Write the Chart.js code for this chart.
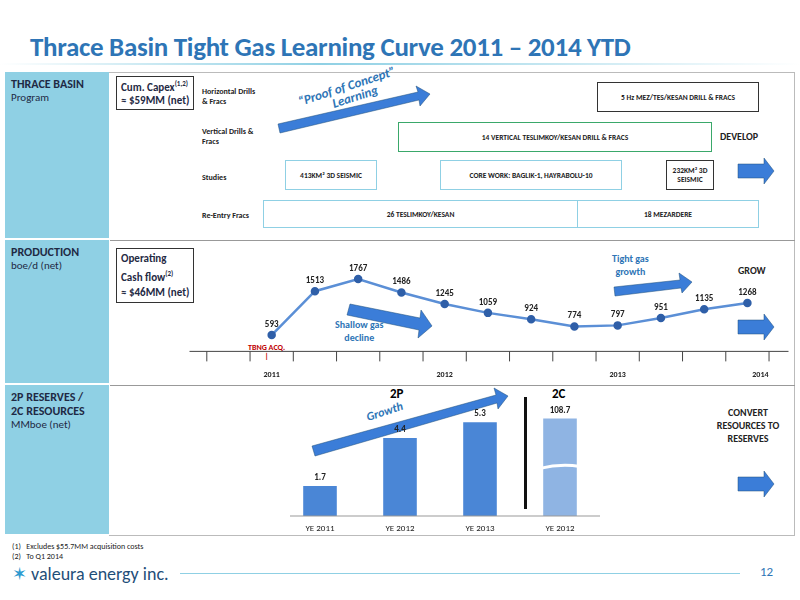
<!DOCTYPE html>
<html><head><meta charset="utf-8">
<script src="https://cdn.jsdelivr.net/npm/chart.js@4"></script>
<style>
body{margin:0;width:800px;height:600px;position:relative;background:#fff;font-family:Calibri,"Liberation Sans",Arial,sans-serif;overflow:hidden}
.a{position:absolute}
.title{left:30px;top:30px;font-size:27px;font-weight:bold;color:#2e75b6;letter-spacing:-0.3px}
.rowlab{left:5px;width:104px;background:#8fd0e4;border-bottom:2px solid #fff;padding:5px 6px;box-sizing:border-box;font-size:11px;color:#1f2a44}
.rowlab b{font-size:12px}
.box{position:absolute;border:1.5px solid #8fd0e4;font-size:7.5px;font-weight:bold;display:flex;align-items:center;justify-content:center;text-align:center;color:#222}
.lbl{position:absolute;font-size:8px;color:#222;font-weight:bold}
.note{position:absolute;border:1px solid #333;font-size:11px;font-weight:bold;padding:2px 4px;color:#1f2a44;background:#fff}
.sec{position:absolute;font-size:10px;font-weight:bold;color:#222;text-align:center}
</style></head><body>
<div class="a title">Thrace Basin Tight Gas Learning Curve 2011 – 2014 YTD</div>
<div class="a" style="left:0;top:63px;width:800px;height:2px;background:linear-gradient(90deg,#fff,#8fd0e4 40%,#fff)"></div>
<div class="a" style="left:5px;top:72px;width:790px;height:464px;border:1px solid #bbb;box-sizing:border-box"></div>
<div class="a" style="left:110px;top:240px;width:685px;height:1px;background:#999"></div>
<div class="a" style="left:110px;top:385px;width:685px;height:1px;background:#999"></div>
<div class="a rowlab" style="top:72px;height:168px"><b>THRACE BASIN</b><br>Program</div>
<div class="a rowlab" style="top:240px;height:145px"><b>PRODUCTION</b><br>boe/d (net)</div>
<div class="a rowlab" style="top:385px;height:151px"><b>2P RESERVES /<br>2C RESOURCES</b><br>MMboe (net)</div>

<div class="note" style="left:116px;top:76px">Cum. Capex<sup style="font-size:7px">(1,2)</sup><br>≈ $59MM (net)</div>
<div class="lbl" style="left:202px;top:86px">Horizontal Drills<br>&amp; Fracs</div>
<div class="lbl" style="left:202px;top:126px">Vertical Drills &amp;<br>Fracs</div>
<div class="lbl" style="left:202px;top:172px">Studies</div>
<div class="lbl" style="left:202px;top:210px">Re-Entry Fracs</div>
<div class="box" style="left:597px;top:82px;width:160px;height:28px;border-color:#333">5 Hz MEZ/TES/KESAN DRILL &amp; FRACS</div>
<div class="box" style="left:398px;top:122px;width:312px;height:28px;border-color:#3aa86a">14 VERTICAL TESLIMKOY/KESAN DRILL &amp; FRACS</div>
<div class="box" style="left:285px;top:160px;width:90px;height:28px">413KM² 3D SEISMIC</div>
<div class="box" style="left:440px;top:160px;width:180px;height:28px">CORE WORK: BAGLIK-1, HAYRABOLU-10</div>
<div class="box" style="left:666px;top:160px;width:46px;height:28px;border-color:#333">232KM² 3D SEISMIC</div>
<div class="box" style="left:263px;top:200px;width:313px;height:26px">26 TESLIMKOY/KESAN</div>
<div class="box" style="left:577px;top:200px;width:180px;height:26px">18 MEZARDERE</div>
<div class="sec" style="left:720px;top:130px">DEVELOP</div>
<div class="sec" style="left:738px;top:264px">GROW</div>
<div class="sec" style="left:716px;top:406px;width:64px">CONVERT RESOURCES TO RESERVES</div>

<div class="note" style="left:116px;top:248px;line-height:15px">Operating<br>Cash flow<sup style="font-size:7px">(2)</sup><br>≈ $46MM (net)</div>
<div class="a" style="left:248px;top:343px;font-size:8px;font-weight:bold;color:#c00000;text-align:center;line-height:9px">TBNG ACQ.<br>|</div>
<div class="a" style="left:335px;top:318px;font-size:10px;font-weight:bold;color:#2e75b6;text-align:center">Shallow gas<br>decline</div>
<div class="a" style="left:612px;top:252px;font-size:10px;font-weight:bold;color:#2e75b6;text-align:center">Tight gas<br>growth</div>
<div class="a" style="left:390px;top:386px;font-size:13px;font-weight:bold">2P</div>
<div class="a" style="left:552px;top:386px;font-size:13px;font-weight:bold">2C</div>
<div class="a" style="left:524px;top:397px;width:3px;height:112px;background:#111"></div>
<div class="a" style="left:12px;top:541px;font-size:8px;color:#222">(1)&nbsp;&nbsp;&nbsp;Excludes $55.7MM acquisition costs<br>(2)&nbsp;&nbsp;&nbsp;To Q1 2014</div>
<div class="a" style="left:12px;top:563px;font-size:18px;color:#1f4e79"><span style="color:#2e9ad0">✶</span> valeura energy inc.</div>
<div class="a" style="left:180px;top:573px;width:560px;height:1px;background:#8fd0e4"></div>
<div class="a" style="left:760px;top:564px;font-size:13px;color:#2e75b6">12</div>

<svg class="a" style="left:0;top:0" width="800" height="600">
<g fill="#3b7dd8" stroke="#1f4e79" stroke-width="0.5">
<polygon points="278,124 418,92 416,86 430,94 420,106 419,100 280,133"/>
<polygon points="738,164 764,164 764,158 774,171 764,184 764,178 738,178"/>
<polygon points="738,320 764,320 764,314 774,327 764,340 764,334 738,334"/>
<polygon points="738,477 764,477 764,471 774,484 764,497 764,491 738,491"/>
<polygon points="350,304 420,318 421,310 432,326 418,338 419,330 347,315"/>
<polygon points="614,287 680,280 679,273 692,282 682,293 681,288 615,296"/>
<polygon points="312,446 496,395 494,388 508,396 498,409 497,403 315,456"/>
</g>
<text x="300" y="106" transform="rotate(-18 300 106)" font-size="13" font-weight="bold" fill="#2e75b6" font-style="italic">“Proof of Concept”</text>
<text x="334" y="108" transform="rotate(-18 334 108)" font-size="13" font-weight="bold" fill="#2e75b6" font-style="italic">Learning</text>
<text x="368" y="421" transform="rotate(-18 368 421)" font-size="12" font-weight="bold" fill="#2e75b6" font-style="italic">Growth</text>
</svg>

<canvas id="prod" class="a" style="left:183px;top:250px"></canvas>
<canvas id="res" class="a" style="left:280px;top:400px"></canvas>
<script>
const prodValues = [593, 1513, 1767, 1486, 1245, 1059, 924, 774, 797, 951, 1135, 1268];
const yearLabels = ['2011', '2012', '2013', '2014'];
const yearPos = [0, 4, 8, 11.3];
const resCategories = ['YE 2011', 'YE 2012', 'YE 2013', 'YE 2012'];
const resValues = [1.7, 4.4, 5.3, 108.7];
const resColors = ['#4a86d6', '#4a86d6', '#4a86d6', '#8fb4e3'];

function setup(id, w, h) {
  const c = document.getElementById(id);
  c.width = w; c.height = h; c.style.width = w + 'px'; c.style.height = h + 'px';
  return c;
}

const prodAxis = {
  id: 'prodAxis',
  afterDraw(chart) {
    const ctx = chart.ctx, x = chart.scales.x, y = chart.scales.y;
    const ay = y.getPixelForValue(252);
    ctx.save();
    ctx.strokeStyle = '#444'; ctx.lineWidth = 1;
    ctx.beginPath(); ctx.moveTo(x.left, ay); ctx.lineTo(x.right, ay);
    for (let i = -2; i <= 12; i++) {
      const px = x.getPixelForValue(i - 0.5);
      ctx.moveTo(px, ay); ctx.lineTo(px, ay + 10);
    }
    ctx.stroke();
    ctx.fillStyle = '#222'; ctx.font = 'bold 8px Carlito, "Liberation Sans", sans-serif'; ctx.textAlign = 'center';
    yearLabels.forEach((l, i) => ctx.fillText(l, x.getPixelForValue(yearPos[i]), ay + 26));
    ctx.font = 'bold 9px Carlito, "Liberation Sans", sans-serif';
    chart.getDatasetMeta(0).data.forEach((p, i) => ctx.fillText(prodValues[i], p.x, p.y - 8));
    ctx.restore();
  }
};

new Chart(setup('prod', 612, 135), {
  type: 'line',
  data: { datasets: [{
    data: prodValues.map((v, i) => ({ x: i, y: v })),
    borderColor: '#5b8fd6', borderWidth: 2.5,
    pointBackgroundColor: '#2f5fa8', pointBorderColor: '#2f5fa8', pointRadius: 3, tension: 0
  }] },
  options: {
    responsive: false, animation: false,
    layout: { padding: 0 },
    plugins: { legend: { display: false }, tooltip: { enabled: false } },
    scales: {
      x: { type: 'linear', display: false, min: -1.9, max: 11.95 },
      y: { display: false, min: -316, max: 2240 }
    }
  },
  plugins: [prodAxis]
});

const brokenMax = 5.5;
const resLabels = {
  id: 'resLabels',
  afterDraw(chart) {
    const ctx = chart.ctx, x = chart.scales.x, y = chart.scales.y;
    const by = y.getPixelForValue(0);
    ctx.save();
    ctx.strokeStyle = '#999'; ctx.beginPath(); ctx.moveTo(x.left + 10, by); ctx.lineTo(x.right, by); ctx.stroke();
    ctx.fillStyle = '#222'; ctx.textAlign = 'center';
    const meta = chart.getDatasetMeta(0);
    meta.data.forEach((b, i) => {
      ctx.font = 'bold 9px Carlito, "Liberation Sans", sans-serif';
      ctx.fillText(resValues[i], b.x, b.y - 6);
      ctx.font = '9px Carlito, "Liberation Sans", sans-serif';
      ctx.fillText(resCategories[i], b.x, by + 15);
    });
    const b = meta.data[3];
    const my = y.getPixelForValue(2.8);
    ctx.strokeStyle = '#fff'; ctx.lineWidth = 3;
    ctx.beginPath(); ctx.moveTo(b.x - 20, my + 2); ctx.quadraticCurveTo(b.x, my - 3, b.x + 20, my); ctx.stroke();
    ctx.restore();
  }
};

new Chart(setup('res', 320, 136), {
  type: 'bar',
  data: { labels: resCategories, datasets: [{
    data: resValues.map(v => Math.min(v, brokenMax)),
    backgroundColor: resColors, barPercentage: 0.42, categoryPercentage: 1
  }] },
  options: {
    responsive: false, animation: false,
    layout: { padding: { bottom: 20 } },
    plugins: { legend: { display: false }, tooltip: { enabled: false } },
    scales: { x: { display: false }, y: { display: false, min: 0, max: 6.55 } }
  },
  plugins: [resLabels]
});
</script>
</body></html>
